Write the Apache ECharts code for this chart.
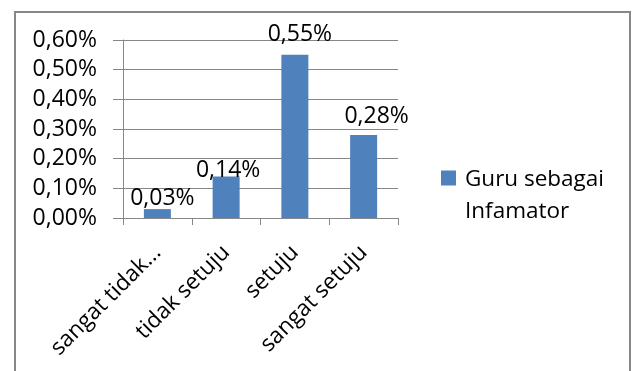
<!DOCTYPE html>
<html><head><meta charset="utf-8">
<script src="https://cdn.jsdelivr.net/npm/echarts@6/dist/echarts.min.js"></script>
<style>html,body{margin:0;padding:0;background:#fff}#c{width:632px;height:371px}</style>
</head><body><div id="c"></div>
<script>
var categories = ['sangat tidak...', 'tidak setuju', 'setuju', 'sangat setuju'];
var seriesName = 'Guru sebagai Infamator';
var values = [0.03, 0.14, 0.55, 0.28];
var yTicks = [0, 0.1, 0.2, 0.3, 0.4, 0.5, 0.6];
// label nudges (style only)
var labelNudge = [[5, 6], [2, 10], [5, -4], [13, -2]];

function fmt(v){ return v.toFixed(2).replace('.', ',') + '%'; }
var FONT = 'Open Sans';
var GRAY = '#878787';

var chart = echarts.init(document.getElementById('c'), null, {renderer: 'canvas'});
chart.setOption({
  animation: false,
  textStyle: {fontFamily: FONT},
  graphic: [{
    type: 'rect', shape: {x: 15, y: 12, width: 615, height: 420},
    style: {fill: 'none', stroke: GRAY, lineWidth: 2}, z: -1
  }],
  grid: {left: 123, right: 234, top: 40, bottom: 153},
  legend: {
    orient: 'vertical', left: 441, top: 164, padding: 0,
    itemWidth: 15, itemHeight: 51,
    icon: 'path://M0,0L15,0L15,15L0,15Z M0,51L0.01,51L0.01,50.99Z',
    formatter: function(n){ return 'Guru sebagai\nInfamator'; },
    textStyle: {fontFamily: FONT, fontSize: 22.5, color: '#000', lineHeight: 32, padding: [0, 0, 0, 4]}
  },
  xAxis: {
    type: 'category', data: categories,
    axisLine: {show: true, lineStyle: {color: GRAY, width: 1}},
    axisTick: {show: true, length: 7, lineStyle: {color: GRAY}},
    axisLabel: {rotate: 45, interval: 0, margin: 31, fontSize: 22.5, color: '#000', fontFamily: FONT}
  },
  yAxis: {
    type: 'value', min: 0, max: 0.6, interval: 0.1,
    axisLine: {show: true, lineStyle: {color: GRAY}},
    axisTick: {show: true, length: 10, lineStyle: {color: GRAY}},
    splitLine: {show: true, lineStyle: {color: GRAY, width: 1}},
    axisLabel: {formatter: function(v){ return fmt(v); }, margin: 26, fontSize: 23, color: '#000', fontFamily: FONT}
  },
  series: [{
    name: seriesName, type: 'bar', barWidth: 27,
    itemStyle: {color: '#4F81BD'},
    data: values.map(function(v, i){
      return {value: v, label: {offset: labelNudge[i]}};
    }),
    label: {show: true, position: 'top', distance: 5, fontSize: 23, color: '#000', fontFamily: FONT,
      formatter: function(p){ return fmt(p.value); }}
  }]
});
</script></body></html>
